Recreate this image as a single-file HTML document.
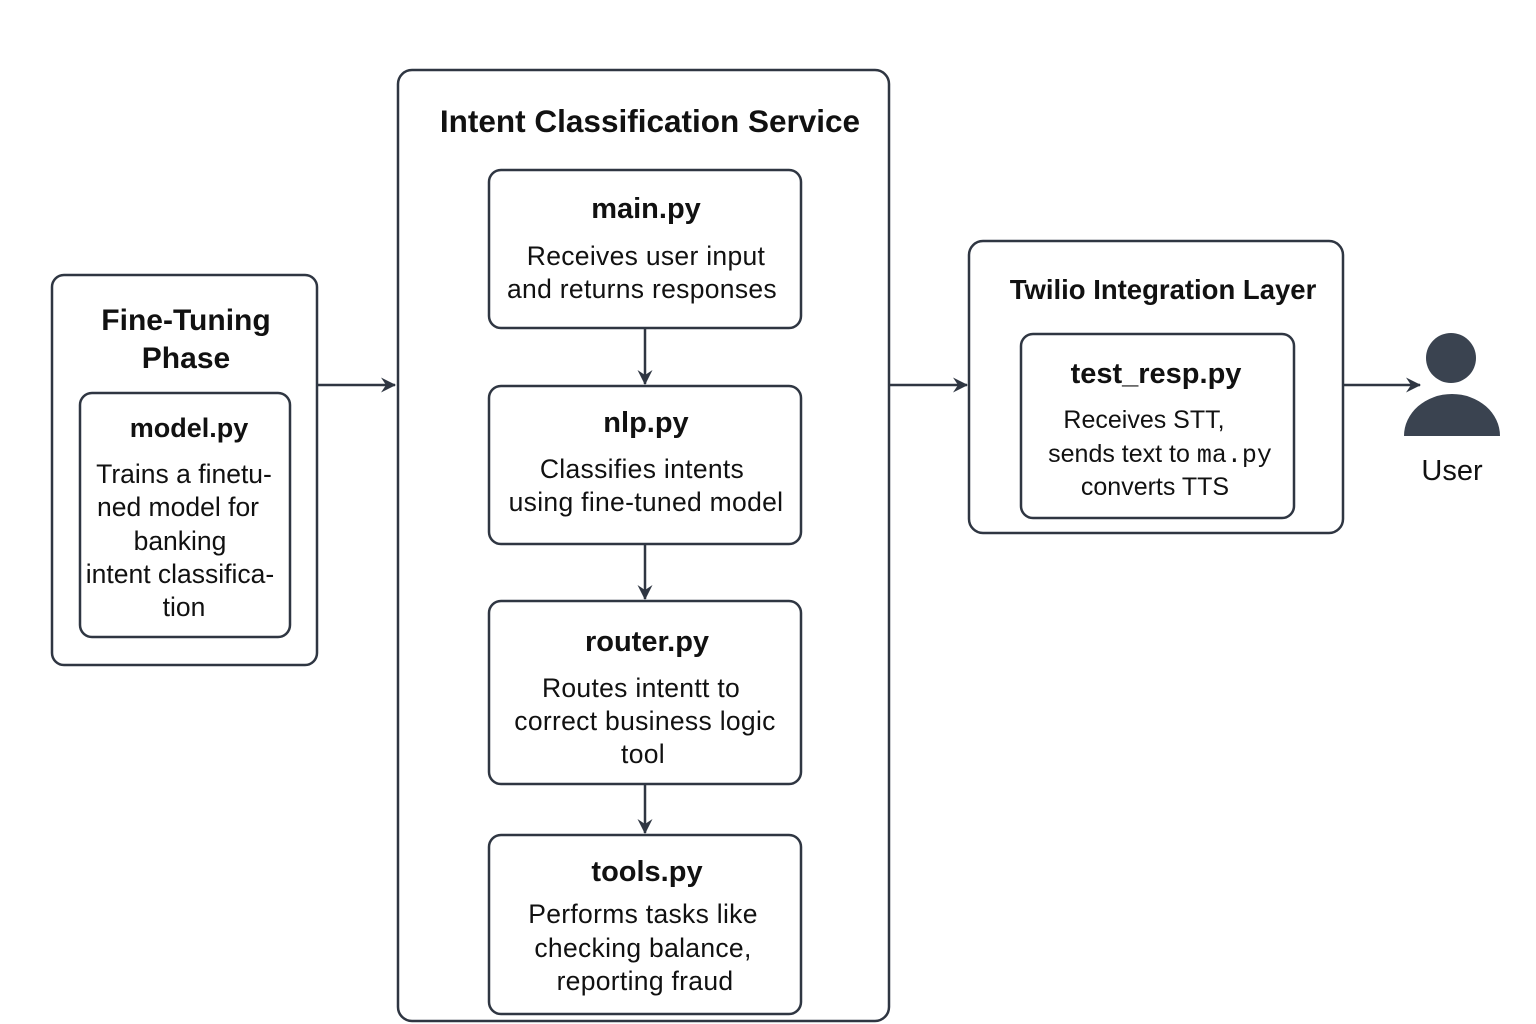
<!DOCTYPE html>
<html><head><meta charset="utf-8"><style>
html,body{margin:0;padding:0;background:#fff}
svg{display:block}
text{font-family:"Liberation Sans",sans-serif;fill:#111}
.t{font-weight:bold}
</style></head><body>
<svg width="1536" height="1024" viewBox="0 0 1536 1024" xmlns="http://www.w3.org/2000/svg">
<defs><marker id="a" markerWidth="15" markerHeight="15" refX="14" refY="7.5" orient="auto" markerUnits="userSpaceOnUse"><path d="M0,0 L15,7.5 L0,15 L5,7.5 Z" fill="#2f3642"/></marker></defs>
<g fill="none" stroke="#2f3642" stroke-width="2.5">
<rect x="52" y="275" width="265" height="390" rx="12"/>
<rect x="80" y="393" width="210" height="244" rx="12"/>
<rect x="398" y="70" width="491" height="951" rx="14"/>
<rect x="489" y="170" width="312" height="158" rx="12"/>
<rect x="489" y="386" width="312" height="158" rx="12"/>
<rect x="489" y="601" width="312" height="183" rx="12"/>
<rect x="489" y="835" width="312" height="179" rx="12"/>
<rect x="969" y="241" width="374" height="292" rx="14"/>
<rect x="1021" y="334" width="273" height="184" rx="12"/>
<line x1="318" y1="385" x2="395" y2="385" marker-end="url(#a)"/>
<line x1="890" y1="385" x2="967" y2="385" marker-end="url(#a)"/>
<line x1="1344" y1="385" x2="1420" y2="385" marker-end="url(#a)"/>
<line x1="645" y1="329" x2="645" y2="384" marker-end="url(#a)"/>
<line x1="645" y1="545" x2="645" y2="599" marker-end="url(#a)"/>
<line x1="645" y1="785" x2="645" y2="833" marker-end="url(#a)"/>
</g>
<circle cx="1451" cy="358" r="25" fill="#3a4350"/>
<path d="M1404,436 A48,42 0 0 1 1500,436 Z" fill="#3a4350"/>
<g text-anchor="middle">
<text x="1452" y="480" font-size="29">User</text>
<text x="186" y="330" font-size="30" class="t">Fine-Tuning</text>
<text x="186" y="368" font-size="30" class="t">Phase</text>
<text x="189" y="437" font-size="27" class="t">model.py</text>
<g font-size="26.5"><text x="184" y="483">Trains a finetu-</text><text x="178" y="516">ned model for</text><text x="180" y="550">banking</text><text x="180" y="583">intent classifica-</text><text x="184" y="616">tion</text></g>
<text x="650" y="132" font-size="31.5" class="t">Intent Classification Service</text>
<text x="646" y="218" font-size="29" class="t">main.py</text>
<g font-size="26.5" letter-spacing="0.3"><text x="646" y="265">Receives user input</text><text x="642" y="298">and returns responses</text></g>
<text x="646" y="432" font-size="29" class="t">nlp.py</text>
<g font-size="26.5" letter-spacing="0.3"><text x="642" y="478">Classifies intents</text><text x="646" y="511">using fine-tuned model</text></g>
<text x="647" y="651" font-size="29" class="t">router.py</text>
<g font-size="26.5" letter-spacing="0.3"><text x="641" y="697">Routes intentt to</text><text x="645" y="730">correct business logic</text><text x="643" y="763">tool</text></g>
<text x="647" y="881" font-size="29" class="t">tools.py</text>
<g font-size="26.5" letter-spacing="0.3"><text x="643" y="923">Performs tasks like</text><text x="643" y="957">checking balance,</text><text x="645" y="990">reporting fraud</text></g>
<text x="1163" y="299" font-size="27.5" class="t">Twilio Integration Layer</text>
<text x="1156" y="383" font-size="29" class="t">test_resp.py</text>
<g font-size="25"><text x="1144" y="428">Receives STT,</text><text x="1160" y="462">sends text to <tspan font-family="Liberation Mono,monospace">ma.py</tspan></text><text x="1155" y="495">converts TTS</text></g>
</g>
</svg>
</body></html>
